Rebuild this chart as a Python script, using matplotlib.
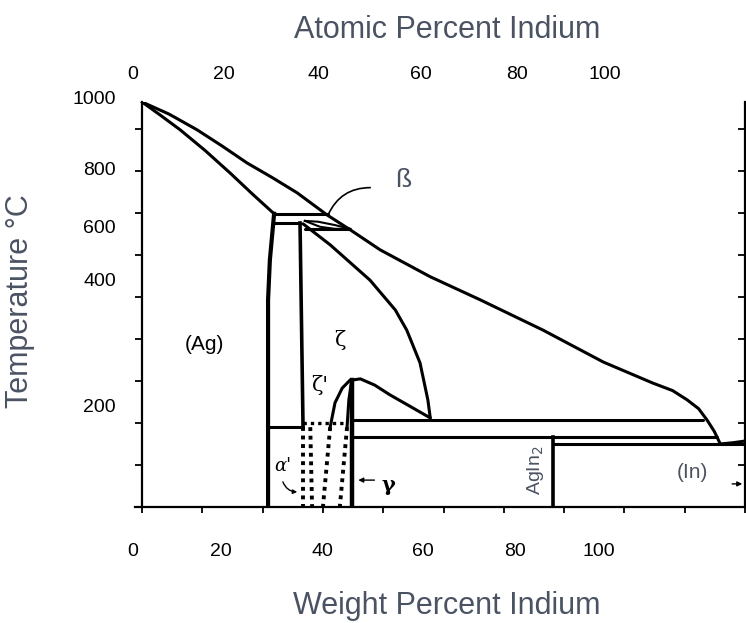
import matplotlib
matplotlib.use('Agg')
import matplotlib.pyplot as plt

# Ag-In phase boundaries: x = weight percent In, t = temperature (C)
liq_x = [0, 4.5, 9.1, 13.3, 17.4, 21.6, 25.7, 30.7, 34.5, 39.5, 47.8, 56.1, 66.5,
         76.5, 84.7, 88.0, 90.4, 92.3, 93.7, 94.9, 95.9]
liq_t = [964, 935, 898, 859, 819, 784, 748, 695, 660, 612, 548, 493, 421,
         345, 295, 277, 255, 234, 207, 180, 150]
in_liq_x = [95.9, 98.0, 100]
in_liq_t = [150, 153, 157]

sol_x = [0, 3.0, 6.3, 10.5, 14.6, 18.3, 21.9]
sol_t = [964, 933, 898, 848, 795, 745, 698]

ag_solvus_x = [21.9, 21.2, 20.9, 20.9]
ag_solvus_t = [698, 588, 493, 0]

zeta_left_x = [26.2, 26.7]
zeta_left_t = [676, 190]

zeta_right_x = [26.7, 31.2, 37.8, 42.0, 43.9, 46.1, 47.4, 47.8]
zeta_right_t = [674, 624, 540, 469, 421, 343, 255, 212]

zp_right_x = [34.8, 36.2, 38.6, 41.1, 44.4, 47.8]
zp_right_t = [302, 305, 290, 267, 240, 212]
zp_outer_x = [31.2, 32.0, 33.2, 34.5]
zp_outer_t = [190, 248, 283, 302]
zp_inner_x = [34.0, 34.3, 34.7]
zp_inner_t = [190, 255, 295]

gamma_x = [34.8, 34.8]
gamma_t = [302, 0]

agin2_x = [68.2, 68.2]
agin2_t = [167, 0]

# horizontal reactions: (x_from, x_to, temperature)
iso_698 = (21.9, 30.9, 698)
iso_676 = (21.9, 26.2, 676)
iso_662 = (27.0, 34.5, 662)
iso_190 = (20.9, 26.7, 190)
iso_207 = (35.0, 93.0, 207)
iso_167 = (35.0, 95.4, 167)
iso_150 = (68.2, 100, 150)

beta_top_x = [27.0, 29.2, 32.0, 34.5]
beta_top_t = [681, 679, 671, 662]
beta_bot_x = [27.0, 29.5, 32.0, 34.5]
beta_bot_t = [681, 667, 662, 662]

# dotted alpha' boundaries (top x, bottom x)
dot_top_x = [26.7, 27.9, 31.2, 34.0]
dot_bot_x = [26.7, 28.2, 30.0, 32.8]
dot_line_t = (190, 0)
dot_iso = (26.7, 34.0, 200)

# axis labels, placed where they sit in the original figure
wt_labels = ['0', '20', '40', '60', '80', '100']
wt_label_pos = [-1.5, 13.1, 29.9, 46.6, 61.9, 75.8]
at_labels = ['0', '20', '40', '60', '80', '100']
at_label_pos = [-1.5, 13.6, 29.2, 46.3, 62.2, 76.8]
t_labels = ['1000', '800', '600', '400', '200']
t_label_pos = [969, 802, 662, 536, 236]

x_ticks = [0, 10, 20, 30, 40, 50, 60, 70, 80, 90, 100]
t_ticks = [100, 200, 300, 400, 500, 600, 700, 800, 900]

grey = '#4b5363'
lw = 2.2
sans = ['Liberation Sans Narrow', 'Liberation Sans', 'DejaVu Sans']

fig = plt.figure(figsize=(7.46, 6.23), dpi=100)
ax = fig.add_axes([0.1807, 0.1862, 0.818, 0.6501])
ax.set_xlim(-1.2, 100)
ax.set_ylim(0, 964)

ax.spines['top'].set_visible(False)
ax.spines['left'].set_position(('data', 0))
for s in ['left', 'right', 'bottom']:
    ax.spines[s].set_linewidth(1.6)

ax.set_xticks(x_ticks)
ax.set_xticklabels([])
ax.set_yticks(t_ticks)
ax.set_yticklabels([])
ax.tick_params(axis='x', direction='out', length=4, width=1.3)
ax.tick_params(axis='y', direction='out', length=5, width=1.3)
ax_r = ax.secondary_yaxis('right')
ax_r.set_yticks(t_ticks)
ax_r.set_yticklabels([])
ax_r.tick_params(direction='in', length=5, width=1.3)
ax_r.spines['right'].set_linewidth(1.0)
ax_r.spines['right'].set_color('#777777')

k = dict(color='black', lw=lw, solid_capstyle='round', solid_joinstyle='round')
ax.plot(liq_x, liq_t, **k)
ax.plot(in_liq_x, in_liq_t, **k)
ax.plot(sol_x, sol_t, **k)
ax.plot(ag_solvus_x, ag_solvus_t, color='black', lw=3.0)
ax.plot(zeta_left_x, zeta_left_t, color='black', lw=2.6)
ax.plot(zeta_right_x, zeta_right_t, **k)
ax.plot(zp_right_x, zp_right_t, **k)
ax.plot(zp_outer_x, zp_outer_t, **k)
ax.plot(zp_inner_x, zp_inner_t, **k)
ax.plot(gamma_x, gamma_t, color='black', lw=3.2)
ax.plot(agin2_x, agin2_t, color='black', lw=2.6)
for x0, x1, t in [iso_698, iso_676, iso_662, iso_190, iso_207, iso_167, iso_150]:
    ax.plot([x0, x1], [t, t], **k)
ax.plot(beta_top_x, beta_top_t, color='black', lw=1.5)
ax.plot(beta_bot_x, beta_bot_t, color='black', lw=1.5)

for xt, xb in zip(dot_top_x, dot_bot_x):
    ax.plot([xt, xb], list(dot_line_t), color='black', lw=2.8, ls=(0, (1, 1.2)))
ax.plot([dot_iso[0], dot_iso[1]], [dot_iso[2], dot_iso[2]], color='black', lw=2.4,
        ls=(0, (1, 1.2)))

# tick labels
for s, x in zip(wt_labels, wt_label_pos):
    ax.text(x, -105, s, ha='center', va='center', fontsize=14,
            family=sans, clip_on=False)
for s, x in zip(at_labels, at_label_pos):
    ax.text(x, 1029, s, ha='center', va='center', fontsize=14,
            family=sans, clip_on=False)
for s, t in zip(t_labels, t_label_pos):
    ax.text(-4.3, t, s, ha='right', va='center', fontsize=14,
            family=sans, clip_on=False)

ax.text(50.6, 1135, 'Atomic Percent Indium', ha='center', va='center', fontsize=22,
        color=grey, family=sans, clip_on=False)
ax.text(50.6, -235, 'Weight Percent Indium', ha='center', va='center', fontsize=22,
        color=grey, family=sans, clip_on=False)
ax.text(-20.2, 490, 'Temperature °C', ha='center', va='center', fontsize=22,
        rotation=90, color=grey, family=sans, clip_on=False)

# phase labels
ax.text(10.4, 386, '(Ag)', ha='center', va='center', fontsize=15, family=sans)
ax.text(32.8, 398, 'ζ', ha='center', va='center', fontsize=15, family='DejaVu Serif')
ax.text(29.5, 290, "ζ'", ha='center', va='center', fontsize=15, family='DejaVu Serif')
ax.text(43.3, 779, 'ß', ha='center', va='center', fontsize=19, color=grey,
        family=sans)
ax.annotate('', xy=(30.7, 690), xytext=(38.3, 760),
            arrowprops=dict(arrowstyle='-', color='black', lw=1.2,
                            connectionstyle='arc3,rad=0.35'))
ax.text(23.4, 97, "α'", ha='center', va='center', fontsize=13, style='italic',
        family='DejaVu Serif')
ax.annotate('', xy=(26.2, 36), xytext=(23.2, 66),
            arrowprops=dict(arrowstyle='-|>', color='black', lw=1.0, mutation_scale=6,
                            connectionstyle='arc3,rad=0.4'))
ax.text(40.8, 52, 'γ', ha='center', va='center', fontsize=15, fontweight='bold',
        family='DejaVu Serif')
ax.annotate('', xy=(35.4, 64), xytext=(39.0, 64),
            arrowprops=dict(arrowstyle='-|>', color='black', lw=1.0, mutation_scale=7))
ax.text(65.2, 88, 'AgIn$_2$', ha='center', va='center', fontsize=14, rotation=90,
        color=grey, family=sans)
ax.text(91.2, 81, '(In)', ha='center', va='center', fontsize=15, color=grey,
        family=sans)
ax.annotate('', xy=(100, 55), xytext=(97.4, 55),
            arrowprops=dict(arrowstyle='-|>', color='black', lw=1.0, mutation_scale=7))

fig.savefig('out.png', dpi=100)
